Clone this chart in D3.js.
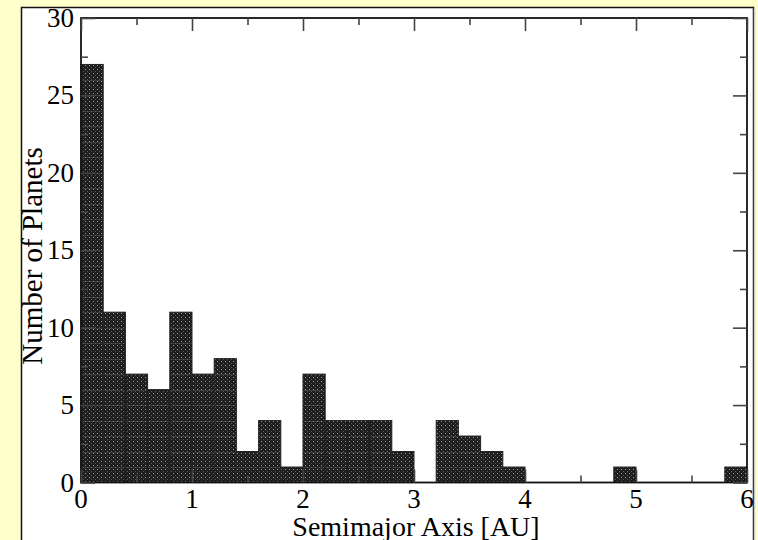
<!DOCTYPE html>
<html>
<head>
<meta charset="utf-8">
<script src="https://cdn.jsdelivr.net/npm/d3@7"></script>
<style>
  body { margin: 0; background: #ffffcc; }
  svg { display: block; }
</style>
</head>
<body>
<div id="chart"></div>
<script>
const binStart = [0, 0.2, 0.4, 0.6, 0.8, 1.0, 1.2, 1.4, 1.6, 1.8,
                  2.0, 2.2, 2.4, 2.6, 2.8, 3.0, 3.2, 3.4, 3.6, 3.8,
                  4.0, 4.2, 4.4, 4.6, 4.8, 5.0, 5.2, 5.4, 5.6, 5.8]
const binCount = [27, 11, 7, 6, 11, 7, 8, 2, 4, 1,
                  7, 4, 4, 4, 2, 0, 4, 3, 2, 1,
                  0, 0, 0, 0, 1, 0, 0, 0, 0, 1]
const binWidth = 0.2
const xTicks = [0, 1, 2, 3, 4, 5, 6]
const yTicks = [0, 5, 10, 15, 20, 25, 30]

const bins = binStart.map((d, i) => ({x0: d, x1: d + binWidth, n: binCount[i]}))

const W = 758, H = 540
const margin = {left: 81, right: W - 747, top: 18, bottom: H - 482.5}

const svg = d3.select("#chart")
    .append("svg")
    .attr("width", W)
    .attr("height", H)

// dotted dark fill used by the bars
const defs = svg.append("defs")
const pat = defs.append("pattern")
    .attr("id", "dots")
    .attr("patternUnits", "userSpaceOnUse")
    .attr("width", 4)
    .attr("height", 4)
pat.append("rect").attr("width", 4).attr("height", 4).attr("fill", "#1e1e1e")
pat.append("rect").attr("x", 1).attr("y", 1).attr("width", 1).attr("height", 1).attr("fill", "#a0a0a0")
pat.append("rect").attr("x", 3).attr("y", 3).attr("width", 1).attr("height", 1).attr("fill", "#5a5a5a")

// white panel
svg.append("rect")
    .attr("x", 21.5)
    .attr("y", 7.5)
    .attr("width", 732)
    .attr("height", 540)
    .attr("fill", "white")
    .attr("stroke", "#111")
    .attr("stroke-width", 1.5)
svg.append("line")
    .attr("x1", 754.5).attr("y1", 8)
    .attr("x2", 754.5).attr("y2", H)
    .attr("stroke", "#c8c8c8")
    .attr("stroke-width", 1.5)

const x = d3.scaleLinear()
    .domain([0, 6])
    .range([margin.left, W - margin.right])

const y = d3.scaleLinear()
    .domain([0, 30])
    .range([H - margin.bottom, margin.top])

// bars
const bar = svg.append("g")
    .selectAll("g")
    .data(bins.filter(d => d.n > 0))
    .join("g")

bar.append("rect")
    .attr("x", d => x(d.x0))
    .attr("y", d => y(d.n))
    .attr("width", d => x(d.x1) - x(d.x0))
    .attr("height", d => y(0) - y(d.n))
    .attr("fill", "url(#dots)")
    .attr("stroke", "#222")
    .attr("stroke-width", 1)

// faint seams between the stacked counts
bar.selectAll("line")
    .data(d => d3.range(1, d.n).map(k => ({x0: d.x0, x1: d.x1, k: k})))
    .join("line")
    .attr("x1", d => x(d.x0) + 1)
    .attr("x2", d => x(d.x1) - 1)
    .attr("y1", d => Math.round(y(d.k)) + 0.5)
    .attr("y2", d => Math.round(y(d.k)) + 0.5)
    .attr("stroke", "#6a6a6a")
    .attr("stroke-width", 1)
    .attr("stroke-opacity", 0.4)

// frame
svg.append("rect")
    .attr("x", x(0))
    .attr("y", y(30))
    .attr("width", x(6) - x(0))
    .attr("height", y(0) - y(30))
    .attr("fill", "none")
    .attr("stroke", "#111")
    .attr("stroke-width", 1.8)

// inward ticks, major + minor
const xMinor = d3.range(0.5, 6, 1)
const yMinor = d3.range(2.5, 30, 5)
const tickG = svg.append("g")

const xBot = d3.axisBottom(x).tickValues(xTicks).tickSize(-13).tickFormat("")
const xBotMinor = d3.axisBottom(x).tickValues(xMinor).tickSize(-7).tickFormat("")
const xTop = d3.axisTop(x).tickValues(xTicks).tickSize(-13).tickFormat("")
const xTopMinor = d3.axisTop(x).tickValues(xMinor).tickSize(-7).tickFormat("")
const yL = d3.axisLeft(y).tickValues(yTicks).tickSize(-14).tickFormat("")
const yLMinor = d3.axisLeft(y).tickValues(yMinor).tickSize(-7).tickFormat("")
const yR = d3.axisRight(y).tickValues(yTicks).tickSize(-14).tickFormat("")
const yRMinor = d3.axisRight(y).tickValues(yMinor).tickSize(-7).tickFormat("")

;[[xBot, `translate(0,${y(0)})`], [xBotMinor, `translate(0,${y(0)})`],
 [xTop, `translate(0,${y(30)})`], [xTopMinor, `translate(0,${y(30)})`],
 [yL, `translate(${x(0)},0)`], [yLMinor, `translate(${x(0)},0)`],
 [yR, `translate(${x(6)},0)`], [yRMinor, `translate(${x(6)},0)`]].forEach(function(a) {
    const g = tickG.append("g").attr("transform", a[1]).call(a[0])
    g.select(".domain").remove()
    g.selectAll("line").attr("stroke", "#444").attr("stroke-width", 1.6)
})

// tick labels
const font = "'Liberation Serif', 'Times New Roman', serif"
svg.append("g")
    .selectAll("text")
    .data(xTicks)
    .join("text")
    .attr("x", d => x(d))
    .attr("y", 508)
    .attr("text-anchor", "middle")
    .style("font-family", font)
    .style("font-size", "27px")
    .text(d => d)

svg.append("g")
    .selectAll("text")
    .data(yTicks)
    .join("text")
    .attr("x", 74)
    .attr("y", d => y(d) + 9)
    .attr("text-anchor", "end")
    .style("font-family", font)
    .style("font-size", "27px")
    .text(d => d)

// axis titles
svg.append("text")
    .attr("x", 416)
    .attr("y", 536)
    .attr("text-anchor", "middle")
    .style("font-family", font)
    .style("font-size", "28px")
    .text("Semimajor Axis [AU]")

svg.append("text")
    .attr("transform", "translate(42,256) rotate(-90)")
    .attr("text-anchor", "middle")
    .style("font-family", font)
    .style("font-size", "29px")
    .text("Number of Planets")
</script>
</body>
</html>
